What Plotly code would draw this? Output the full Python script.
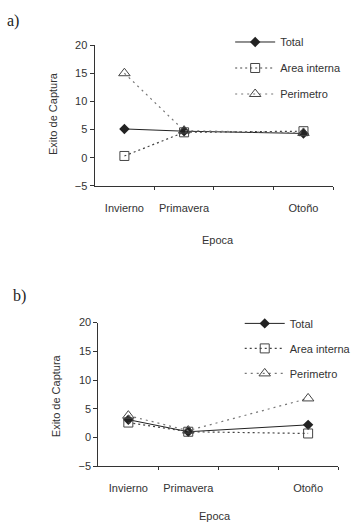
import plotly.graph_objects as go

categories = ["Invierno", "Primavera", "Otoño"]
cat_pos = [0, 1, 3]  # third slot (Verano) is empty in the original
y_ticks = [-5, 0, 5, 10, 15, 20]

total_a = [5.1, 4.7, 4.3]
area_a = [0.3, 4.5, 4.7]
perim_a = [15.0, 4.8, 4.4]

total_b = [3.1, 1.0, 2.2]
area_b = [2.6, 1.0, 0.7]
perim_b = [3.8, 1.2, 6.8]

series_names = ["Total", "Area interna", "Perimetro"]

FONT = "Liberation Sans, Arial, sans-serif"
FS = 11
W, H = 356, 524

fig = go.Figure()

styles = [
    dict(line=dict(color="#222", width=1), marker=dict(symbol="diamond", size=8, color="#222")),
    dict(line=dict(color="#444", width=1.2, dash="2px,3px"),
         marker=dict(symbol="square-open", size=9, color="#444", line=dict(width=1))),
    dict(line=dict(color="#777", width=1.2, dash="2px,4px"),
         marker=dict(symbol="triangle-up-open", size=10, color="#444", line=dict(width=1))),
]

for panel, data, xa, ya, lg in [
    ("a", [total_a, area_a, perim_a], "x", "y", "legend"),
    ("b", [total_b, area_b, perim_b], "x2", "y2", "legend2"),
]:
    for i, (name, vals) in enumerate(zip(series_names, data)):
        fig.add_trace(go.Scatter(
            x=cat_pos, y=vals, name=name, mode="lines+markers",
            xaxis=xa, yaxis=ya, legend=lg, legendgroup=panel + name,
            **styles[i]
        ))

def px_x(p):
    return p / W

def px_y(p):
    return 1 - p / H

axis_common = dict(showgrid=False, zeroline=False, showline=True, linecolor="#333",
                   linewidth=1, tickfont=dict(family=FONT, size=FS, color="#333"))

xcommon = dict(axis_common, range=[-0.5, 3.5], tickmode="array", tickvals=cat_pos,
               ticktext=categories, ticks="outside", ticklen=12,
               tickcolor="rgba(0,0,0,0)",
               minor=dict(tickmode="array", tickvals=[0.5, 1.5, 2.5, 3.5],
                          ticks="outside", ticklen=3, tickcolor="#333", tickwidth=1))
ycommon = dict(axis_common, range=[-5, 20], tickmode="array", tickvals=y_ticks,
               ticks="outside", ticklen=4, tickcolor="#333")

fig.update_layout(
    width=W, height=H, margin=dict(l=0, r=0, t=0, b=0),
    paper_bgcolor="white", plot_bgcolor="white",
    xaxis=dict(xcommon, domain=[px_x(99), px_x(349)], anchor="y"),
    yaxis=dict(ycommon, domain=[px_y(184), px_y(40)], anchor="x"),
    xaxis2=dict(xcommon, domain=[px_x(103), px_x(354)], anchor="y2"),
    yaxis2=dict(ycommon, domain=[px_y(471), px_y(324)], anchor="x2"),
    legend=dict(x=px_x(241), y=px_y(22), xanchor="left", yanchor="top",
                bgcolor="rgba(0,0,0,0)", font=dict(family=FONT, size=FS, color="#333"),
                tracegroupgap=7, itemwidth=40),
    legend2=dict(x=px_x(251), y=px_y(310), xanchor="left", yanchor="top",
                 bgcolor="rgba(0,0,0,0)", font=dict(family=FONT, size=FS, color="#333"),
                 tracegroupgap=6, itemwidth=40),
    annotations=[
        dict(text="a)", x=px_x(5), y=px_y(15), xref="paper", yref="paper",
             xanchor="left", yanchor="middle", showarrow=False,
             font=dict(family="Liberation Serif, serif", size=16, color="#222")),
        dict(text="b)", x=px_x(11), y=px_y(297), xref="paper", yref="paper",
             xanchor="left", yanchor="middle", showarrow=False,
             font=dict(family="Liberation Serif, serif", size=16, color="#222")),
        dict(text="Epoca", x=px_x(228), y=px_y(239), xref="paper", yref="paper",
             xanchor="center", yanchor="middle", showarrow=False,
             font=dict(family=FONT, size=FS, color="#333")),
        dict(text="Epoca", x=px_x(225), y=px_y(522), xref="paper", yref="paper",
             xanchor="center", yanchor="middle", showarrow=False,
             font=dict(family=FONT, size=FS, color="#333")),
        dict(text="Exito de Captura", x=px_x(56), y=px_y(110), xref="paper", yref="paper",
             xanchor="center", yanchor="middle", showarrow=False, textangle=-90,
             font=dict(family=FONT, size=FS, color="#333")),
        dict(text="Exito de Captura", x=px_x(59), y=px_y(399), xref="paper", yref="paper",
             xanchor="center", yanchor="middle", showarrow=False, textangle=-90,
             font=dict(family=FONT, size=FS, color="#333")),
    ],
)

fig.write_html("out.html")
